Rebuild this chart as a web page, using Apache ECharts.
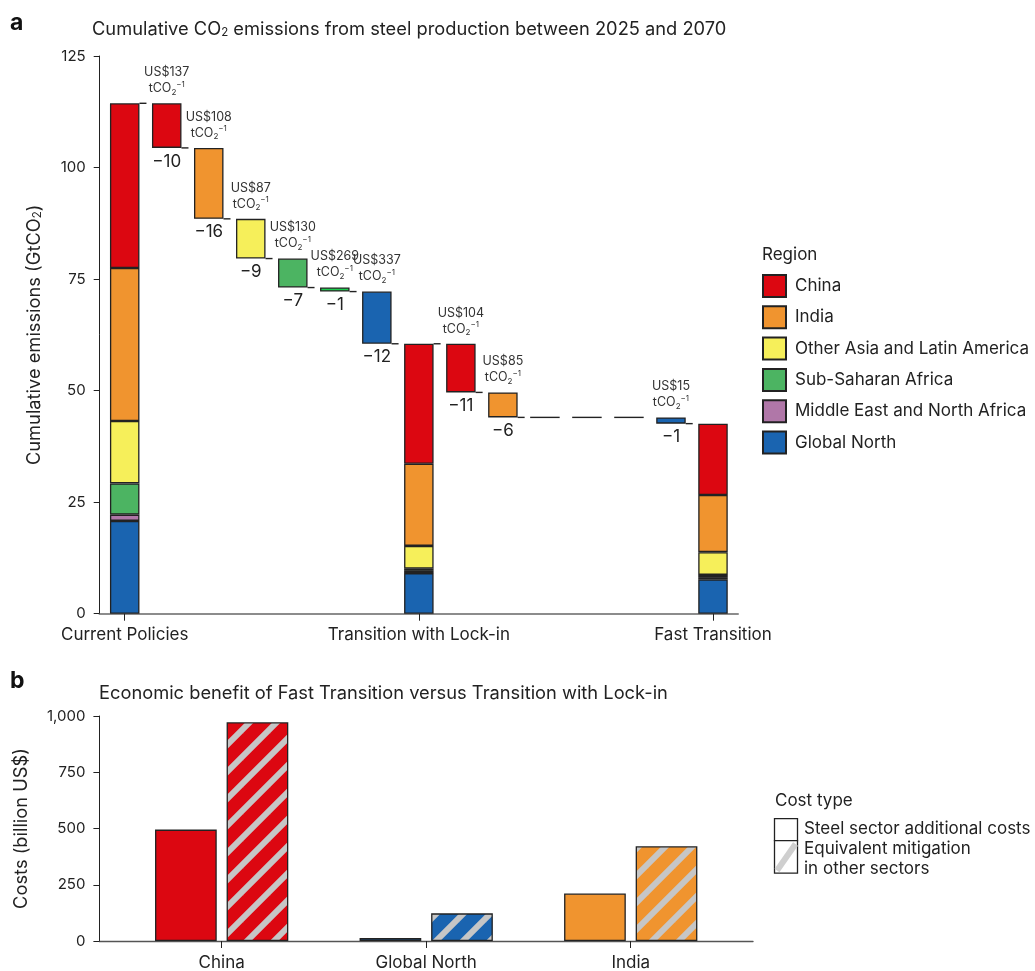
<!DOCTYPE html>
<html>
<head>
<meta charset="utf-8">
<title>Steel emissions and costs</title>
<script src="https://cdn.jsdelivr.net/npm/echarts@6/dist/echarts.min.js"></script>
<style>
  html, body { margin: 0; padding: 0; background: #fff; }
  #chart { width: 1035px; height: 971px; }
</style>
</head>
<body>
<div id="chart"></div>
<script>
// ---- Panel a: cumulative CO2 emissions (GtCO2), by region ----
const regions = ['China', 'India', 'Other Asia and Latin America', 'Sub-Saharan Africa', 'Middle East and North Africa', 'Global North'];
const regionColors = ['#dc0711', '#f0942f', '#f6ef5a', '#4cb462', '#b077a8', '#1a64b0'];
const stepColors = ['#dc0711', '#f0942f', '#f6ef5a', '#4cb462', '#1ccf4e', '#1a64b0'];
const scenarios = ['Current Policies', 'Transition with Lock-in', 'Fast Transition'];
const currentPolicies = [36.9, 34.3, 14.0, 7.0, 1.4, 20.8];
const lockIn = [26.9, 18.4, 5.1, 0.5, 0.5, 9.1];
const fastTransition = [16.0, 12.8, 5.1, 0.5, 0.5, 7.7];
const abatementCostToLockIn = ['US$137', 'US$108', 'US$87', 'US$130', 'US$269', 'US$337'];
const abatementCostToFast = ['US$104', 'US$85', '', '', '', 'US$15'];
const emissionTicks = [0, 25, 50, 75, 100, 125];

// ---- Panel b: costs (billion US$) ----
const costRegions = ['China', 'Global North', 'India'];
const costColors = ['#dc0711', '#1a64b0', '#f0942f'];
const steelSectorCosts = [495, 13, 211];
const otherSectorMitigation = [972, 123, 421];
const costTicks = [0, 250, 500, 750, 1000];

const FONT = 'Inter, "Noto Sans", sans-serif';
const INK = '#222';
const BAR_W = 29.5;

// Build the 15 slots of the waterfall: scenario, six regional steps, scenario, six steps, scenario
const slots = [];
const stacks = regions.map(() => []);   // per region, values on slots
const baseVals = [], stepVals = [], stepColor = [], costLabel = [], stepLabel = [];
const connectors = [];
const sum = a => a.reduce((s, v) => s + v, 0);

function pushScenario(name, values) {
  const idx = slots.length;
  slots.push(name);
  regions.forEach((r, k) => stacks[k].push(values[k]));
  baseVals.push('-'); stepVals.push('-'); stepColor.push(null); costLabel.push(''); stepLabel.push('');
  if (idx < 14) connectors.push([idx, sum(values), 0]);
}
function pushSteps(tag, from, to, costs) {
  let level = sum(from);
  regions.forEach((r, k) => {
    const idx = slots.length;
    const diff = to[k] - from[k];
    slots.push(r + ' ' + tag);
    stacks.forEach(s => s.push('-'));
    level += diff;
    if (Math.abs(diff) < 0.05) {
      baseVals.push('-'); stepVals.push('-'); stepColor.push(null); costLabel.push(''); stepLabel.push('');
      connectors.push([idx, level, 1]);
    } else {
      baseVals.push(level); stepVals.push(-diff); stepColor.push(stepColors[k]);
      costLabel.push(costs[k]);
      stepLabel.push('\u2212' + Math.round(-diff));
      connectors.push([idx, level, 0]);
    }
  });
}
pushScenario(scenarios[0], currentPolicies);
pushSteps('a', currentPolicies, lockIn, abatementCostToLockIn);
pushScenario(scenarios[1], lockIn);
pushSteps('b', lockIn, fastTransition, abatementCostToFast);
pushScenario(scenarios[2], fastTransition);

// Diagonal hatch fill used for "equivalent mitigation in other sectors"
function hatch(color) {
  const T = 27;
  const c = document.createElement('canvas');
  c.width = T; c.height = T;
  const g = c.getContext('2d');
  g.fillStyle = color; g.fillRect(0, 0, T, T);
  g.strokeStyle = '#c6c6c6'; g.lineWidth = 6;
  [0, T, 2 * T].forEach(k => {
    g.beginPath(); g.moveTo(-T, k + T); g.lineTo(2 * T, k - 2 * T); g.stroke();
  });
  return { image: c, repeat: 'repeat' };
}

const subRich = {
  n: { fontSize: 18.3, fontFamily: FONT, color: INK, fontWeight: 'normal' },
  s: { fontSize: 11.5, fontFamily: FONT, color: INK, fontWeight: 'normal', verticalAlign: 'bottom' }
};

const labelRich = {
  a: { fontSize: 12.5, fontFamily: FONT, color: '#333', lineHeight: 16 },
  sb: { fontSize: 8, fontFamily: FONT, color: '#333', verticalAlign: 'bottom', lineHeight: 16 },
  sp: { fontSize: 8, fontFamily: FONT, color: '#333', verticalAlign: 'top', lineHeight: 16 }
};

// region stacks, bottom to top: Global North ... China
const regionSeries = regions.map((r, k) => ({ r, k })).reverse().map(({ r, k }) => ({
  name: r,
  type: 'bar',
  xAxisIndex: 0, yAxisIndex: 0,
  stack: 'wf',
  barWidth: BAR_W,
  data: stacks[k],
  itemStyle: { color: regionColors[k], borderColor: INK, borderWidth: 1.3 },
  emphasis: { disabled: true },
  z: 3
}));

const option = {
  animation: false,
  textStyle: { fontFamily: FONT },
  title: [
    { text: 'a', left: 10, top: 12, padding: 0, textStyle: { fontSize: 23, fontWeight: 'bold', color: '#111', fontFamily: FONT } },
    { text: '{n|Cumulative CO}{s|2}{n| emissions from steel production between 2025 and 2070}', left: 92, top: 21, padding: 0, textStyle: { fontWeight: 'normal', rich: subRich } },
    { text: 'b', left: 10, top: 670, padding: 0, textStyle: { fontSize: 23, fontWeight: 'bold', color: '#111', fontFamily: FONT } },
    { text: 'Economic benefit of Fast Transition versus Transition with Lock-in', left: 99, top: 685, padding: 0, textStyle: { fontSize: 18.3, fontWeight: 'normal', color: INK, fontFamily: FONT } }
  ],
  legend: {
    orient: 'vertical',
    left: 762, top: 274, padding: 0,
    itemWidth: 23, itemHeight: 22, itemGap: 7.3,
    icon: 'rect',
    selectedMode: false,
    data: regions,
    textStyle: { fontSize: 17, color: INK, fontFamily: FONT, padding: [0, 0, 0, 4] }
  },
  grid: [
    { left: 103.7, right: 301, top: 56, bottom: 357.3 },
    { left: 99.5, right: 297, top: 56, bottom: 357.3 },
    { left: 119.4, right: 302, top: 716, bottom: 29.3 },
    { left: 99.4, right: 282, top: 716, bottom: 29.3 }
  ],
  xAxis: [
    {
      type: 'category', gridIndex: 0, data: slots,
      axisLine: { show: false },
      axisTick: { show: true, alignWithLabel: true, length: 7, lineStyle: { color: INK }, interval: i => i % 7 === 0 },
      axisLabel: { interval: i => i % 7 === 0, margin: 13, fontSize: 17, color: INK, fontFamily: FONT },
      splitLine: { show: false }
    },
    {
      type: 'value', gridIndex: 1, min: 0, max: 1,
      axisLine: { show: true, lineStyle: { color: '#8c8c8c', width: 2 } },
      axisTick: { show: false }, axisLabel: { show: false }, splitLine: { show: false }
    },
    {
      type: 'category', gridIndex: 2, data: costRegions,
      axisLine: { show: false },
      axisTick: { show: true, alignWithLabel: true, length: 7, lineStyle: { color: INK } },
      axisLabel: { margin: 13, fontSize: 17, color: INK, fontFamily: FONT },
      splitLine: { show: false }
    },
    {
      type: 'value', gridIndex: 3, min: 0, max: 1,
      axisLine: { show: true, lineStyle: { color: '#555', width: 1.4 } },
      axisTick: { show: false }, axisLabel: { show: false }, splitLine: { show: false }
    }
  ],
  yAxis: [
    {
      type: 'value', gridIndex: 0, min: 0, max: 125, interval: 25, offset: 4,
      axisLine: { show: true, lineStyle: { color: INK, width: 1 } },
      axisTick: { show: true, length: 6, lineStyle: { color: INK } },
      axisLabel: { margin: 14, fontSize: 15, color: INK, fontFamily: FONT,
        customValues: emissionTicks },
      splitLine: { show: false },
      name: '{n|Cumulative emissions (GtCO}{s|2}{n|)}',
      nameLocation: 'middle', nameRotate: 90, nameGap: 56,
      nameTextStyle: { rich: { n: { fontSize: 18.3, color: INK, fontFamily: FONT }, s: { fontSize: 11.5, color: INK, fontFamily: FONT, verticalAlign: 'bottom' } } }
    },
    { type: 'value', gridIndex: 1, show: false },
    {
      type: 'value', gridIndex: 2, min: 0, max: 1000, interval: 250, offset: 20,
      axisLine: { show: true, lineStyle: { color: INK, width: 1 } },
      axisTick: { show: true, length: 6, lineStyle: { color: INK } },
      axisLabel: { margin: 14, fontSize: 15, color: INK, fontFamily: FONT,
        customValues: costTicks,
        formatter: v => v.toLocaleString('en-US') },
      splitLine: { show: false },
      name: 'Costs (billion US$)',
      nameLocation: 'middle', nameRotate: 90, nameGap: 69,
      nameTextStyle: { fontSize: 18.3, color: INK, fontFamily: FONT }
    },
    { type: 'value', gridIndex: 3, show: false }
  ],
  graphic: [
    { type: 'text', left: 762, top: 246, style: { text: 'Region', fontSize: 17, fill: INK, fontFamily: FONT } },
    { type: 'text', left: 775, top: 792, style: { text: 'Cost type', fontSize: 17, fill: INK, fontFamily: FONT } },
    { type: 'rect', shape: { x: 774.5, y: 818.7, width: 23, height: 22 }, style: { fill: '#fff', stroke: INK, lineWidth: 1.3 } },
    { type: 'rect', shape: { x: 774.5, y: 840.7, width: 23, height: 32.5 }, style: { fill: '#fff', stroke: INK, lineWidth: 1.3 } },
    { type: 'line', shape: { x1: 777, y1: 870.5, x2: 795.5, y2: 844 }, style: { stroke: '#cfcfcf', lineWidth: 6 } },
    { type: 'text', left: 804, top: 820, style: { text: 'Steel sector additional costs', fontSize: 17, fill: INK, fontFamily: FONT } },
    { type: 'text', left: 804, top: 839, style: { text: 'Equivalent mitigation\nin other sectors', fontSize: 17, lineHeight: 20, fill: INK, fontFamily: FONT } }
  ],
  series: [
    ...regionSeries,
    {
      name: 'base', type: 'bar', stack: 'wf', barWidth: BAR_W,
      data: baseVals,
      itemStyle: { color: 'rgba(0,0,0,0)' },
      emphasis: { disabled: true },
      label: {
        show: true, position: 'insideTop', distance: 5,
        formatter: p => stepLabel[p.dataIndex],
        fontSize: 17, color: INK, fontFamily: FONT
      },
      z: 2
    },
    {
      name: 'step', type: 'bar', stack: 'wf', barWidth: BAR_W,
      data: stepVals.map((v, i) => v === '-' ? '-' : { value: v, itemStyle: { color: stepColor[i] } }),
      itemStyle: { borderColor: INK, borderWidth: 1.3 },
      emphasis: { disabled: true },
      label: {
        show: true, position: 'top', distance: 7,
        formatter: p => costLabel[p.dataIndex] ? '{a|' + costLabel[p.dataIndex] + '}\n{a|tCO}{sb|2}{sp|\u22121}' : '',
        rich: labelRich
      },
      z: 3
    },
    {
      name: 'connectors', type: 'custom', xAxisIndex: 0, yAxisIndex: 0,
      data: connectors,
      silent: true,
      renderItem: (params, api) => {
        const p = api.coord([api.value(0), api.value(1)]);
        const half = BAR_W / 2;
        const full = api.value(2) === 1;
        return {
          type: 'line',
          shape: full
            ? { x1: p[0] - half, y1: p[1], x2: p[0] + half, y2: p[1] }
            : { x1: p[0] + half, y1: p[1], x2: p[0] + half + 7, y2: p[1] },
          style: { stroke: INK, lineWidth: 1.4 }
        };
      },
      z: 4
    },
    {
      name: 'Steel sector additional costs', type: 'bar', xAxisIndex: 2, yAxisIndex: 2,
      barWidth: 61.7, barGap: '16%',
      data: steelSectorCosts.map((v, i) => ({ value: v, itemStyle: { color: costColors[i] } })),
      itemStyle: { borderColor: INK, borderWidth: 1.3 },
      emphasis: { disabled: true }
    },
    {
      name: 'Equivalent mitigation in other sectors', type: 'bar', xAxisIndex: 2, yAxisIndex: 2,
      barWidth: 61.7, barGap: '16%',
      data: otherSectorMitigation.map((v, i) => ({ value: v, itemStyle: { color: hatch(costColors[i]) } })),
      itemStyle: { borderColor: INK, borderWidth: 1.3 },
      emphasis: { disabled: true }
    }
  ]
};

const chart = echarts.init(document.getElementById('chart'), null, { renderer: 'canvas' });
chart.setOption(option);
</script>
</body>
</html>
